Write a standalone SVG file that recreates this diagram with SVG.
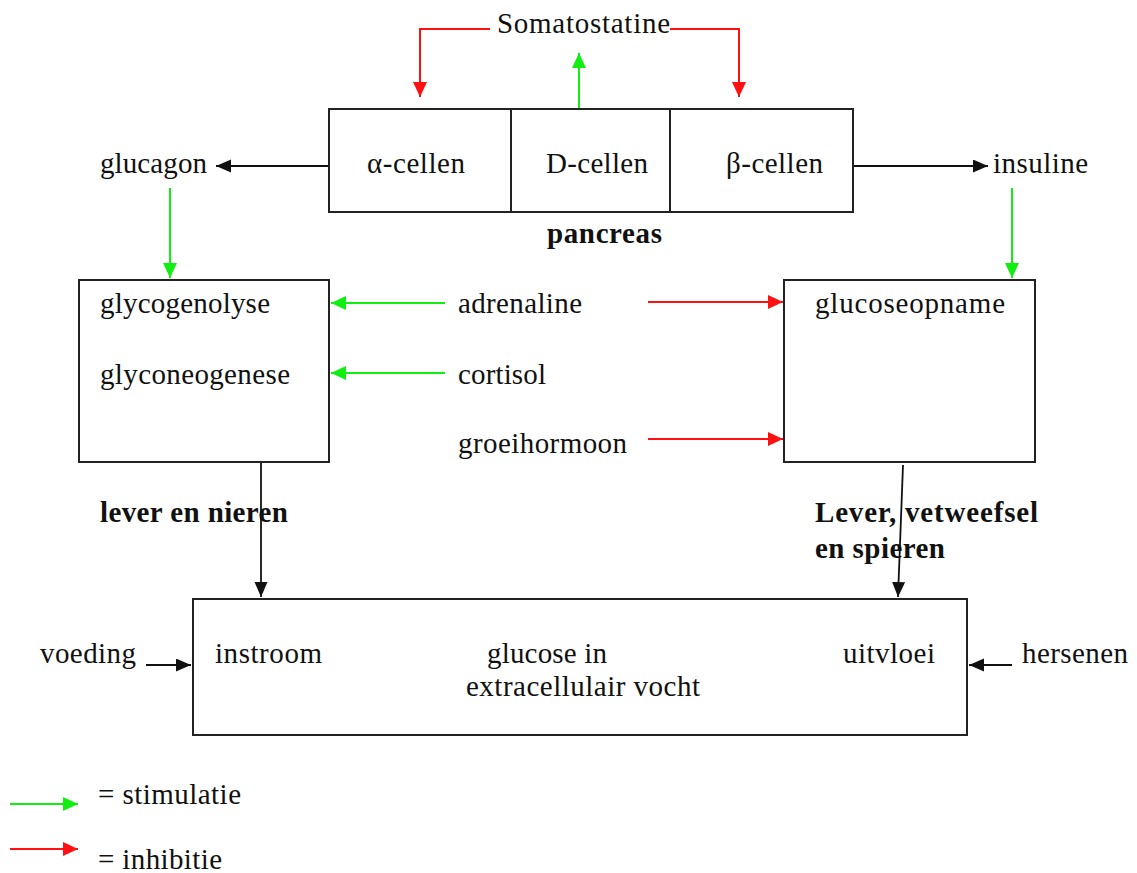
<svg xmlns="http://www.w3.org/2000/svg" width="1137" height="873" viewBox="0 0 1137 873">
  <style>
    .t { font-family: "Liberation Serif", "Times New Roman", serif; font-size: 29px; fill: #111; }
    .b { font-weight: bold; }
    .box { fill: #fff; stroke: #222; stroke-width: 2; }
    .k { fill: none; stroke: #111; stroke-width: 1.8; }
    .g { fill: none; stroke: #11ee11; stroke-width: 2; }
    .r { fill: none; stroke: #ff1111; stroke-width: 2; }
  </style>
  <defs>
    <marker id="ak" markerUnits="userSpaceOnUse" markerWidth="16" markerHeight="14" refX="15" refY="6.5" orient="auto">
      <path d="M0,0 L15,6.5 L0,13 z" fill="#111"/>
    </marker>
    <marker id="ag" markerUnits="userSpaceOnUse" markerWidth="16" markerHeight="15" refX="15" refY="7" orient="auto">
      <path d="M0,0 L15,7 L0,14 z" fill="#11ee11"/>
    </marker>
    <marker id="ar" markerUnits="userSpaceOnUse" markerWidth="16" markerHeight="15" refX="15" refY="7" orient="auto">
      <path d="M0,0 L15,7 L0,14 z" fill="#ff1111"/>
    </marker>
  </defs>
  <rect width="1137" height="873" fill="#fff"/>

  <!-- connectors -->
  <g id="connectors">
    <path class="r" d="M490,29 H420 V97" marker-end="url(#ar)"/>
    <path class="r" d="M670,29 H739 V97" marker-end="url(#ar)"/>
    <path class="g" d="M579,122 V53" marker-end="url(#ag)"/>
    <path class="k" d="M329,166 H216" marker-end="url(#ak)"/>
    <path class="k" d="M853,166 H988" marker-end="url(#ak)"/>
    <path class="g" d="M170,188 V278" marker-end="url(#ag)"/>
    <path class="g" d="M1012,188 V278" marker-end="url(#ag)"/>
    <path class="g" d="M445,303 H331" marker-end="url(#ag)"/>
    <path class="g" d="M445,373 H331" marker-end="url(#ag)"/>
    <path class="r" d="M648,302 H783" marker-end="url(#ar)"/>
    <path class="r" d="M648,439 H783" marker-end="url(#ar)"/>
    <path class="k" d="M261,462 V597" marker-end="url(#ak)"/>
    <path class="k" d="M903,465 L898,597" marker-end="url(#ak)"/>
    <path class="k" d="M146,665 H191" marker-end="url(#ak)"/>
    <path class="k" d="M1012,665 H969" marker-end="url(#ak)"/>
  </g>

  <!-- hormones -->
  <g id="somatostatine"><text class="t" x="497" y="33" textLength="173" lengthAdjust="spacing">Somatostatine</text></g>
  <g id="glucagon"><text class="t" x="100" y="173" textLength="107" lengthAdjust="spacing">glucagon</text></g>
  <g id="insuline"><text class="t" x="993" y="173" textLength="95" lengthAdjust="spacing">insuline</text></g>
  <g id="adrenaline"><text class="t" x="458" y="313" textLength="124" lengthAdjust="spacing">adrenaline</text></g>
  <g id="cortisol"><text class="t" x="458" y="384" textLength="88" lengthAdjust="spacing">cortisol</text></g>
  <g id="groeihormoon"><text class="t" x="458" y="453" textLength="169" lengthAdjust="spacing">groeihormoon</text></g>

  <!-- pancreas -->
  <g id="pancreas">
    <rect class="box" x="329" y="109" width="524" height="103"/>
    <line x1="511" y1="109" x2="511" y2="212" stroke="#222" stroke-width="2"/>
    <line x1="670" y1="109" x2="670" y2="212" stroke="#222" stroke-width="2"/>
    <text class="t" x="367" y="173" textLength="98" lengthAdjust="spacing">α-cellen</text>
    <text class="t" x="546" y="173" textLength="102" lengthAdjust="spacing">D-cellen</text>
    <text class="t" x="726" y="173" textLength="97" lengthAdjust="spacing">β-cellen</text>
    <text class="t b" x="547" y="243" textLength="115" lengthAdjust="spacing">pancreas</text>
  </g>

  <!-- liver and kidneys -->
  <g id="lever-nieren">
    <rect class="box" x="79" y="280" width="250" height="182"/>
    <text class="t" x="100" y="313" textLength="170" lengthAdjust="spacing">glycogenolyse</text>
    <text class="t" x="100" y="384" textLength="190" lengthAdjust="spacing">glyconeogenese</text>
    <text class="t b" x="100" y="522" textLength="188" lengthAdjust="spacing">lever en nieren</text>
  </g>

  <!-- uptake tissues -->
  <g id="glucoseopname">
    <rect class="box" x="784" y="280" width="251" height="182"/>
    <text class="t" x="815" y="313" textLength="190" lengthAdjust="spacing">glucoseopname</text>
    <text class="t b" x="815" y="522" textLength="223" lengthAdjust="spacing">Lever, vetweefsel</text>
    <text class="t b" x="815" y="558" textLength="130" lengthAdjust="spacing">en spieren</text>
  </g>

  <!-- extracellular glucose -->
  <g id="glucose">
    <rect class="box" x="193" y="599" width="774" height="136"/>
    <text class="t" x="215" y="663" textLength="107" lengthAdjust="spacing">instroom</text>
    <text class="t" x="487" y="663" textLength="120" lengthAdjust="spacing">glucose in</text>
    <text class="t" x="466" y="696" textLength="234" lengthAdjust="spacing">extracellulair vocht</text>
    <text class="t" x="843" y="663" textLength="92" lengthAdjust="spacing">uitvloei</text>
  </g>
  <g id="voeding"><text class="t" x="40" y="663" textLength="96" lengthAdjust="spacing">voeding</text></g>
  <g id="hersenen"><text class="t" x="1022" y="663" textLength="106" lengthAdjust="spacing">hersenen</text></g>

  <!-- legend -->
  <g id="legend">
    <path class="g" d="M10,804 H78" marker-end="url(#ag)"/>
    <text class="t" x="98" y="804" textLength="143" lengthAdjust="spacing">= stimulatie</text>
    <path class="r" d="M10,849 H78" marker-end="url(#ar)"/>
    <text class="t" x="98" y="869" textLength="124" lengthAdjust="spacing">= inhibitie</text>
  </g>
</svg>
